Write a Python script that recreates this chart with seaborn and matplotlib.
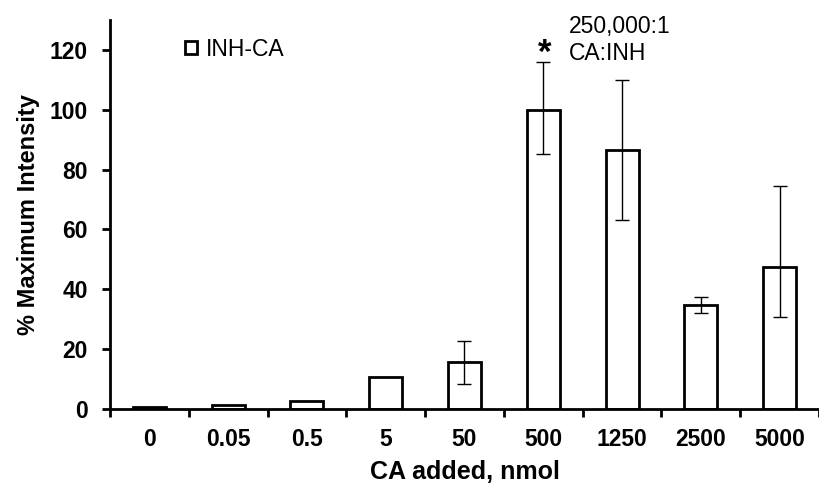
import matplotlib
matplotlib.use("Agg")
import matplotlib.pyplot as plt
import seaborn as sns
import pandas as pd
import numpy as np
from matplotlib.patches import Patch

categories = ["0", "0.05", "0.5", "5", "50", "500", "1250", "2500", "5000"]
values = [0.8, 1.2, 2.8, 10.6, 15.8, 100.0, 86.5, 34.8, 47.6]
err_low = [0.8, 1.2, 2.8, 10.6, 8.4, 85.3, 63.3, 32.2, 30.8]
err_high = [0.8, 1.2, 2.8, 10.6, 22.7, 116.0, 109.8, 37.3, 74.4]
has_err = [False, False, False, False, True, True, True, True, True]

sns.set_theme(style="white")
plt.rcParams['font.family'] = ['Liberation Sans', 'DejaVu Sans']
plt.rcParams.update({"text.color": "black", "axes.labelcolor": "black",
                     "xtick.color": "black", "ytick.color": "black"})

df = pd.DataFrame({"cat": categories, "val": values})

fig = plt.figure(figsize=(8.19, 4.93), dpi=100)
ax = fig.add_axes([0.1343, 0.1704, 0.8657, 0.789])

sns.barplot(data=df, x="cat", y="val", order=categories, ax=ax,
            color="white", edgecolor="black", linewidth=2.0, width=0.42,
            errorbar=None)

idx = [i for i, h in enumerate(has_err) if h]
xv = np.array(idx)
yv = np.array([values[i] for i in idx])
lo = yv - np.array([err_low[i] for i in idx])
hi = np.array([err_high[i] for i in idx]) - yv
ax.errorbar(xv, yv, yerr=[lo, hi], fmt="none", ecolor="black",
            elinewidth=1.0, capsize=5, capthick=1.0)

ax.set_xlim(-0.5, 8.47)
ax.set_ylim(0, 130)
ax.set_yticks([0, 20, 40, 60, 80, 100, 120])
ax.set_xticks(np.arange(-0.5, 9, 1.0), minor=False)
ax.set_xticklabels([])
ax.set_xticks(np.arange(0, 9), minor=True)
ax.set_xticklabels(categories, minor=True)
ax.tick_params(axis="x", which="major", direction="out", length=6, width=2,
               color="black", bottom=True)
ax.tick_params(axis="x", which="minor", length=0, pad=14, labelsize=16.5,
               labelcolor="black")
ax.tick_params(axis="y", direction="out", length=6, width=2, color="black",
               left=True, labelsize=16.5, pad=10, labelcolor="black")
for lab in ax.get_xticklabels(minor=True) + ax.get_yticklabels():
    lab.set_fontweight("bold")

for s in ["top", "right"]:
    ax.spines[s].set_visible(False)
for s in ["left", "bottom"]:
    ax.spines[s].set_color("black")
    ax.spines[s].set_linewidth(2)

ax.set_xlabel("CA added, nmol", fontsize=18, fontweight="bold", labelpad=6,
              color="black")
ax.set_ylabel("% Maximum Intensity", fontsize=17, fontweight="bold", labelpad=7,
              color="black")

handle = Patch(facecolor="white", edgecolor="black", linewidth=2.0)
leg = ax.legend([handle], ["INH-CA"], loc="upper left",
                bbox_to_anchor=(0.087, 0.99),
                frameon=False, fontsize=16.5, handlelength=0.5, handleheight=0.5,
                handletextpad=0.4, borderaxespad=0.2)
for t in leg.get_texts():
    t.set_color("black")

ax.text(5.02, 113.5, "*", ha="center", va="bottom", fontsize=25,
        fontweight="bold", color="black")
ax.text(5.33, 114.8, "250,000:1\nCA:INH", ha="left", va="bottom", fontsize=16.5,
        linespacing=1.25, color="black")

fig.savefig("out.png", dpi=100)
